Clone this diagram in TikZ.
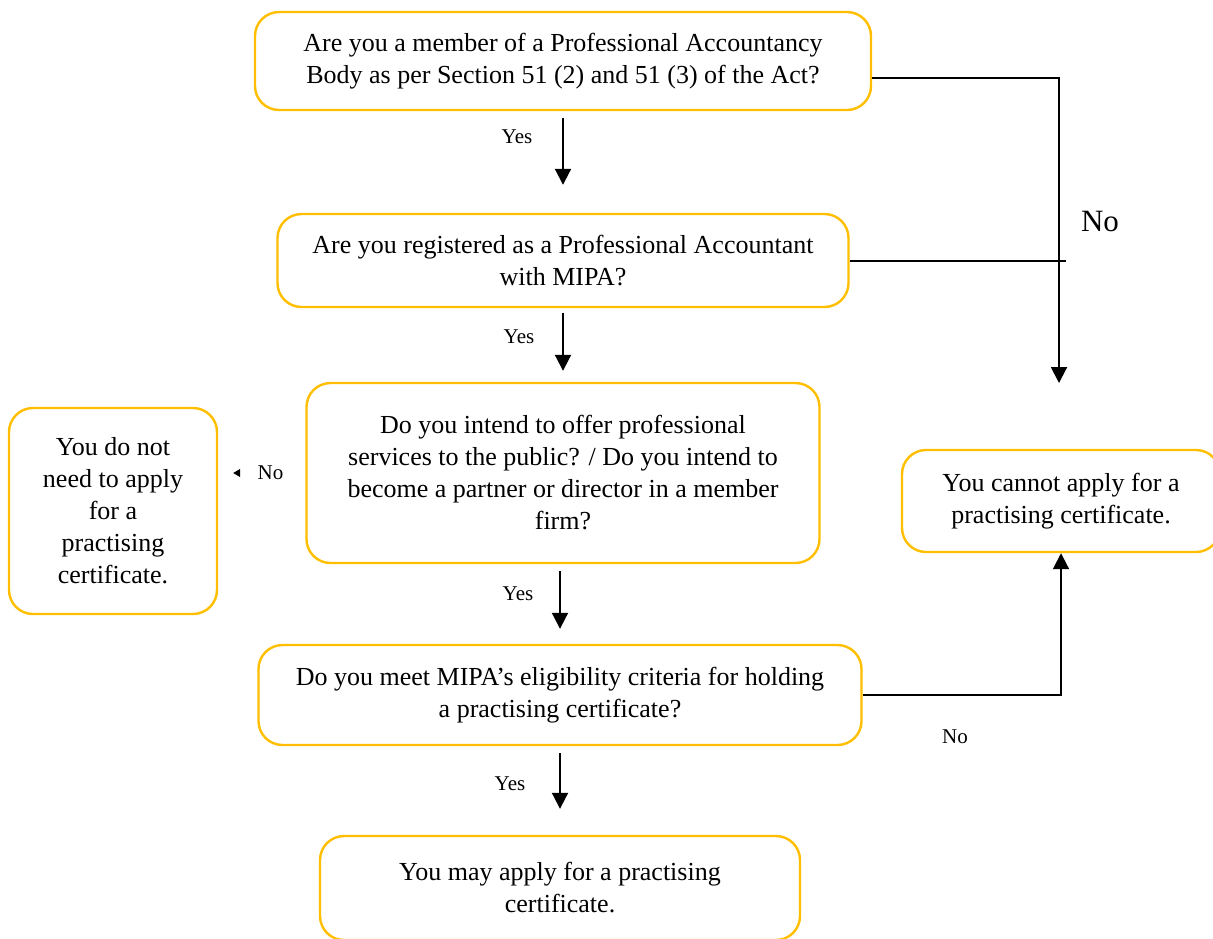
\documentclass[tikz,border=0pt]{standalone}
\usepackage{fontspec}
\setmainfont{Liberation Serif}
\usetikzlibrary{arrows.meta}
\usetikzlibrary{positioning}
\definecolor{mgold}{rgb}{1.0, 0.75, 0.0}
\tikzset{box/.style = {draw=mgold, line width=1.2pt, rounded corners=12pt,
                       align=center, inner sep=0, font=\fontsize{13}{16}\selectfont}}
\tikzset{arr/.style = {line width=1pt, -{Triangle[length=8pt, width=8pt]}}}
\tikzset{link/.style = {line width=1pt}}
\tikzset{lbl/.style = {font=\fontsize{10.5}{12}\selectfont}}

\begin{document}
\begin{tikzpicture}[x=0.5pt, y=-0.5pt]
      \useasboundingbox (0, 0) rectangle (1213, 938);

      \node [box, minimum width=308pt, minimum height=49pt] (member) at (563, 61)
        {Are you a member of a Professional Accountancy\\Body as per Section 51 (2) and 51 (3) of the Act?};
      \node [box, minimum width=285.5pt, minimum height=46.5pt] (registered) at (563, 260.5)
        {Are you registered as a Professional Accountant\\with MIPA?};
      \node [box, minimum width=256.5pt, minimum height=90pt] (intend) at (563, 473)
        {Do you intend to offer professional\\services to the public? / Do you intend to\\become a partner or director in a member\\firm?};
      \node [box, minimum width=104pt, minimum height=103pt] (noneed) at (113, 511)
        {You do not\\need to apply\\for a\\practising\\certificate.};
      \node [box, minimum width=159pt, minimum height=51pt] (cannot) at (1061, 501)
        {You cannot apply for a\\practising certificate.};
      \node [box, minimum width=301.5pt, minimum height=50pt] (eligible) at (560, 695)
        {Do you meet MIPA’s eligibility criteria for holding\\a practising certificate?};
      \node [box, minimum width=240pt, minimum height=52pt] (may) at (560, 888)
        {You may apply for a practising\\certificate.};

      % yes branch
      \draw [arr, shorten <=3.5pt, shorten >=14pt] (member) -- (registered);
      \node [lbl] (yes1) at (517, 137) {Yes};
      \draw [arr, shorten <=2.5pt, shorten >=5.5pt] (registered) -- (intend);
      \node [lbl] (yes2) at (519, 337) {Yes};
      \draw [arr, shorten <=3.5pt, shorten >=7.5pt] (intend.south -| eligible.north) -- (eligible.north);
      \node [lbl] (yes3) at (518, 594) {Yes};
      \draw [arr, shorten <=3.5pt, shorten >=13pt] (eligible) -- (may);
      \node [lbl] (yes4) at (510, 784) {Yes};

      % no branch
      \coordinate (corner) at (1059, 78);
      \coordinate (stop) at (1059, 383);
      \coordinate (tail) at (1066, 260.5);
      \draw [arr] ([yshift=-8.5pt]member.east) -- (corner) -- (stop);
      \draw [link] (registered.east) -- (tail);
      \node [font=\fontsize{15.5}{18}\selectfont] (no1) at (1100, 221) {No};

      \draw [arr] (eligible.east) -| (cannot.south);
      \node [lbl] (no2) at (955, 737) {No};

      \draw [white, -{Triangle[black, length=3.5pt, width=4pt]}, shorten >=7.5pt]
        (intend.west) -- (intend.west -| noneed.east)
        node [lbl, black, pos=0.4] (no3) {No};
    \end{tikzpicture}
\end{document}
